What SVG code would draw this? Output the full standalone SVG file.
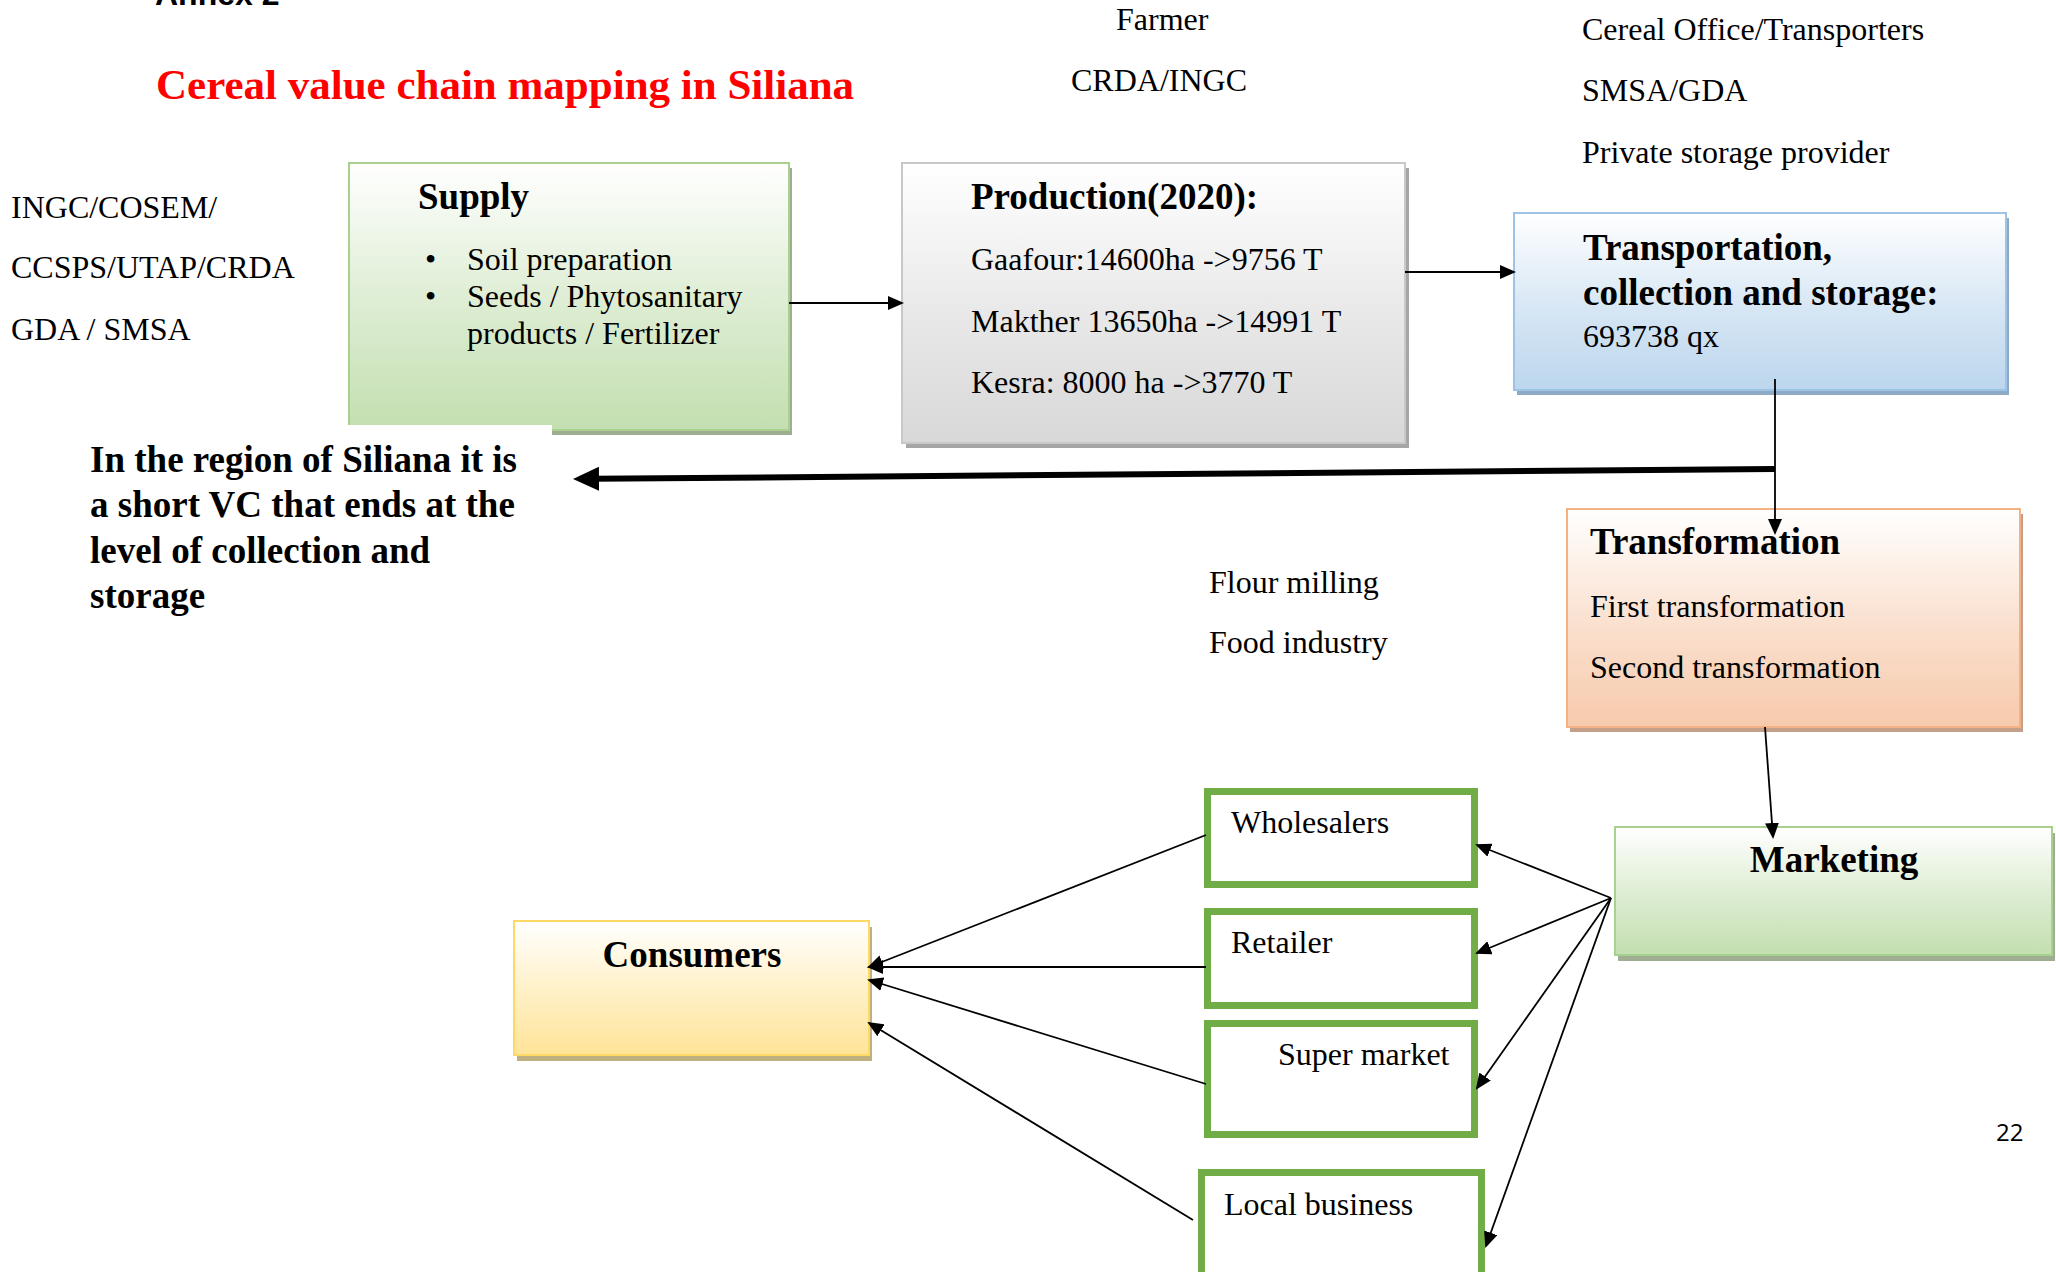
<svg xmlns="http://www.w3.org/2000/svg" width="2056" height="1272" viewBox="0 0 2056 1272">
<style>
.t{font-family:"Liberation Serif","Times New Roman",serif;font-size:32px;fill:#000}
.h{font-family:"Liberation Serif","Times New Roman",serif;font-size:37px;font-weight:bold;fill:#000}
.ln{stroke:#000;stroke-width:1.8;fill:none}
.rb{fill:#fff;stroke:#70ad47;stroke-width:7}
</style>
<defs>
<linearGradient id="gG" x1="0" y1="0" x2="0" y2="1"><stop offset="0" stop-color="#ffffff"/><stop offset="0.55" stop-color="#dcecd1"/><stop offset="1" stop-color="#c3dfb0"/></linearGradient>
<linearGradient id="gP" x1="0" y1="0" x2="0" y2="1"><stop offset="0" stop-color="#ffffff"/><stop offset="0.55" stop-color="#e8e8e8"/><stop offset="1" stop-color="#d8d8d8"/></linearGradient>
<linearGradient id="gB" x1="0" y1="0" x2="0" y2="1"><stop offset="0" stop-color="#ffffff"/><stop offset="0.55" stop-color="#d6e6f4"/><stop offset="1" stop-color="#bcd6ed"/></linearGradient>
<linearGradient id="gO" x1="0" y1="0" x2="0" y2="1"><stop offset="0" stop-color="#ffffff"/><stop offset="0.55" stop-color="#fadfcd"/><stop offset="1" stop-color="#f7caac"/></linearGradient>
<linearGradient id="gY" x1="0" y1="0" x2="0" y2="1"><stop offset="0" stop-color="#ffffff"/><stop offset="0.55" stop-color="#fff0c4"/><stop offset="1" stop-color="#ffe398"/></linearGradient>
<marker id="ah" viewBox="0 0 16 14" refX="14" refY="7" markerWidth="16" markerHeight="14" orient="auto" markerUnits="userSpaceOnUse"><path d="M0,0 L16,7 L0,14 z" fill="#000"/></marker>
<marker id="ahB" viewBox="0 0 26 24" refX="6" refY="12" markerWidth="26" markerHeight="24" orient="auto" markerUnits="userSpaceOnUse"><path d="M0,0 L26,12 L0,24 z" fill="#000"/></marker>
</defs>
<rect width="2056" height="1272" fill="#fff"/>

<g id="header">
<text x="155" y="5" style="font-family:'Liberation Sans',Arial,sans-serif;font-size:32px;font-weight:bold">Annex 2</text>
<text x="156" y="99" class="h" style="font-size:43px;fill:#ff0000">Cereal value chain mapping in Siliana</text>
<text x="1116" y="30" class="t">Farmer</text>
<text x="1071" y="91" class="t">CRDA/INGC</text>
<text x="1582" y="40" class="t">Cereal Office/Transporters</text>
<text x="1582" y="101" class="t">SMSA/GDA</text>
<text x="1582" y="163" class="t">Private storage provider</text>
<text x="11" y="218" class="t">INGC/COSEM/</text>
<text x="11" y="278" class="t">CCSPS/UTAP/CRDA</text>
<text x="11" y="340" class="t">GDA / SMSA</text>
<text x="1209" y="593" class="t">Flour milling</text>
<text x="1209" y="653" class="t">Food industry</text>
<text x="1996" y="1141" style="font-family:'Open Sans','Liberation Sans',sans-serif;font-size:24px">22</text>
</g>

<g id="supply">
<rect x="352" y="168" width="440" height="267" fill="#9fae93"/>
<rect x="349" y="163" width="440" height="267" fill="url(#gG)" stroke="#a9d18e" stroke-width="2"/>
<text x="418" y="209" class="h">Supply</text>
<text x="425" y="270" class="t">•</text><text x="467" y="270" class="t">Soil preparation</text>
<text x="425" y="307" class="t">•</text><text x="467" y="307" class="t">Seeds / Phytosanitary</text>
<text x="467" y="344" class="t">products / Fertilizer</text>
</g>

<g id="production">
<rect x="906" y="168" width="503" height="280" fill="#a6a6a6"/>
<rect x="902" y="163" width="503" height="280" fill="url(#gP)" stroke="#c8c8c8" stroke-width="2"/>
<text x="971" y="209" class="h">Production(2020):</text>
<text x="971" y="270" class="t">Gaafour:14600ha -&gt;9756 T</text>
<text x="971" y="332" class="t">Makther 13650ha -&gt;14991 T</text>
<text x="971" y="393" class="t">Kesra: 8000 ha -&gt;3770 T</text>
</g>

<g id="transport">
<rect x="1517" y="218" width="492" height="177" fill="#8faac4"/>
<rect x="1514" y="213" width="492" height="177" fill="url(#gB)" stroke="#9dc3e6" stroke-width="2"/>
<text x="1583" y="260" class="h">Transportation,</text>
<text x="1583" y="305" class="h">collection and storage:</text>
<text x="1583" y="347" class="t">693738 qx</text>
</g>

<g id="note">
<rect x="80" y="425" width="472" height="200" fill="#fff"/>
<text x="90" y="472" class="h">In the region of Siliana it is</text>
<text x="90" y="517" class="h">a short VC that ends at the</text>
<text x="90" y="563" class="h">level of collection and</text>
<text x="90" y="608" class="h">storage</text>
</g>

<g id="transformation">
<rect x="1570" y="514" width="453" height="218" fill="#c4a08a"/>
<rect x="1567" y="509" width="453" height="218" fill="url(#gO)" stroke="#f4b183" stroke-width="2"/>
<text x="1590" y="554" class="h">Transformation</text>
<text x="1590" y="617" class="t">First transformation</text>
<text x="1590" y="678" class="t">Second transformation</text>
</g>

<g id="marketing">
<rect x="1618" y="833" width="437" height="128" fill="#9fae93"/>
<rect x="1615" y="827" width="437" height="128" fill="url(#gG)" stroke="#a9d18e" stroke-width="2"/>
<text x="1834" y="872" class="h" text-anchor="middle">Marketing</text>
</g>

<g id="consumers">
<rect x="517" y="927" width="355" height="134" fill="#bfb080"/>
<rect x="514" y="921" width="355" height="134" fill="url(#gY)" stroke="#ffd966" stroke-width="2"/>
<text x="692" y="967" class="h" text-anchor="middle">Consumers</text>
</g>

<g id="wholesalers">
<rect x="1207.5" y="791.5" width="267" height="93" class="rb"/>
<text x="1231" y="833" class="t">Wholesalers</text>
</g>
<g id="retailer">
<rect x="1207.5" y="911.5" width="267" height="94" class="rb"/>
<text x="1231" y="953" class="t">Retailer</text>
</g>
<g id="supermarket">
<rect x="1207.5" y="1023.5" width="267" height="111" class="rb"/>
<text x="1278" y="1065" class="t">Super market</text>
</g>
<g id="localbusiness">
<rect x="1201.5" y="1172.5" width="280" height="140" class="rb"/>
<text x="1224" y="1215" class="t">Local business</text>
</g>

<g id="connectors">
<line x1="789" y1="303" x2="902" y2="303" class="ln" marker-end="url(#ah)"/>
<line x1="1405" y1="272" x2="1514" y2="272" class="ln" marker-end="url(#ah)"/>
<line x1="1775" y1="379" x2="1775" y2="533" class="ln" marker-end="url(#ah)"/>
<line x1="1775" y1="469" x2="593" y2="478.8" stroke="#000" stroke-width="6" marker-end="url(#ahB)"/>
<line x1="1765" y1="727" x2="1773" y2="837" class="ln" marker-end="url(#ah)"/>
<line x1="1611" y1="898" x2="1477" y2="845" class="ln" marker-end="url(#ah)"/>
<line x1="1611" y1="898" x2="1477" y2="953" class="ln" marker-end="url(#ah)"/>
<line x1="1611" y1="898" x2="1477" y2="1088" class="ln" marker-end="url(#ah)"/>
<line x1="1611" y1="898" x2="1486" y2="1246" class="ln" marker-end="url(#ah)"/>
<line x1="1206" y1="835" x2="869" y2="967" class="ln" marker-end="url(#ah)"/>
<line x1="1206" y1="967" x2="869" y2="967" class="ln" marker-end="url(#ah)"/>
<line x1="1206" y1="1084" x2="869" y2="980" class="ln" marker-end="url(#ah)"/>
<line x1="1193" y1="1220" x2="869" y2="1023" class="ln" marker-end="url(#ah)"/>
</g>
</svg>
